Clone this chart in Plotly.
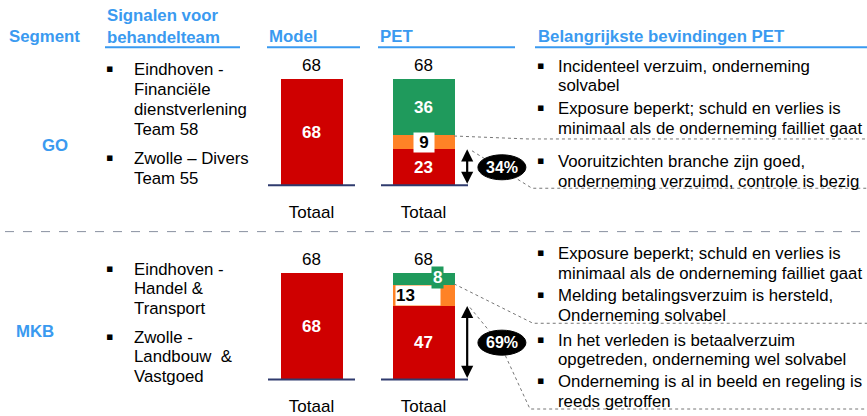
import plotly.graph_objects as go

# ---------------- data ----------------
segments = ["GO", "MKB"]
bar_categories = ["Model", "PET"]
tick_labels = ["Totaal", "Totaal"]
model_totals = [68, 68]
pet_red = [23, 47]
pet_orange = [9, 13]
pet_green = [36, 8]

headers = ["Segment", "Signalen voor<br>behandelteam", "Model", "PET", "Belangrijkste bevindingen PET"]

go_signals = [["Eindhoven -", "Financiële", "dienstverlening", "Team 58"],
              ["Zwolle – Divers", "Team 55"]]
mkb_signals = [["Eindhoven -", "Handel &", "Transport"],
               ["Zwolle -", "Landbouw  &", "Vastgoed"]]
go_findings = [["Incidenteel verzuim, onderneming", "solvabel"],
               ["Exposure beperkt; schuld en verlies is", "minimaal als de onderneming failliet gaat"],
               ["Vooruitzichten branche zijn goed,", "onderneming verzuimd, controle is bezig"]]
mkb_findings = [["Exposure beperkt; schuld en verlies is", "minimaal als de onderneming failliet gaat"],
                ["Melding betalingsverzuim is hersteld,", "Onderneming solvabel"],
                ["In het verleden is betaalverzuim", "opgetreden, onderneming wel solvabel"],
                ["Onderneming is al in beeld en regeling is", "reeds getroffen"]]

# ---------------- styling ----------------
W, H = 867, 416
RED = "#cf0000"
ORANGE = "#ff8226"
GREEN = "#1f9a5c"
BLUE = "#3a9af0"
NAVY = "#2f3b6e"
FONT = "Liberation Sans, Arial, sans-serif"
FS = 16.8
K = 108 / 68          # pixels per unit
Y_MAX = 80
baselines_px = [188, 385]


def px(x):
    return x / W


def py(y):
    return 1 - y / H


fig = go.Figure()
annotations = []
shapes = []

for i, seg in enumerate(segments):
    xa = "x" if i == 0 else "x2"
    ya = "y" if i == 0 else "y2"
    common = dict(xaxis=xa, yaxis=ya, width=0.545, showlegend=False,
                  hoverinfo="skip", marker_line_width=0)
    fig.add_trace(go.Bar(x=bar_categories, y=[model_totals[i], pet_red[i]],
                         marker_color=RED, **common))
    fig.add_trace(go.Bar(x=["PET"], y=[pet_orange[i]], marker_color=ORANGE, **common))
    fig.add_trace(go.Bar(x=["PET"], y=[pet_green[i]], marker_color=GREEN, **common))

    pet_total = pet_red[i] + pet_orange[i] + pet_green[i]
    bold_white = dict(family=FONT, size=17, color="white")
    # totals above bars
    for cat, tot in zip(bar_categories, [model_totals[i], pet_total]):
        annotations.append(dict(xref=xa, yref=ya, x=cat, y=tot, text=str(tot),
                                showarrow=False, yanchor="bottom", yshift=2,
                                font=dict(family=FONT, size=17, color="black")))
    # model label
    annotations.append(dict(xref=xa, yref=ya, x="Model", y=model_totals[i] / 2,
                            text="<b>%d</b>" % model_totals[i], showarrow=False, font=bold_white))
    # red
    annotations.append(dict(xref=xa, yref=ya, x="PET", y=pet_red[i] / 2,
                            text="<b>%d</b>" % pet_red[i], showarrow=False, font=bold_white))
    # orange
    if i == 0:
        annotations.append(dict(xref=xa, yref=ya, x="PET", y=pet_red[i] + pet_orange[i] / 2,
                                text="<b>%d</b>" % pet_orange[i], showarrow=False,
                                bgcolor="white", borderpad=0, width=20,
                                font=dict(family=FONT, size=17, color="black")))
    else:
        annotations.append(dict(xref=xa, yref=ya, x="PET", y=pet_red[i] + pet_orange[i] / 2,
                                text="<b>%d</b>" % pet_orange[i], showarrow=False,
                                bgcolor="white", borderpad=0, width=44, align="left",
                                xshift=-6,
                                font=dict(family=FONT, size=17, color="black")))
    # green
    if i == 0:
        annotations.append(dict(xref=xa, yref=ya, x="PET",
                                y=pet_red[i] + pet_orange[i] + pet_green[i] / 2,
                                text="<b>%d</b>" % pet_green[i], showarrow=False, font=bold_white))
    else:
        annotations.append(dict(xref=xa, yref=ya, x="PET",
                                y=pet_red[i] + pet_orange[i] + pet_green[i] / 2,
                                text="<b>%d</b>" % pet_green[i], showarrow=False,
                                bgcolor=GREEN, borderpad=1, xshift=14, yshift=2,
                                font=bold_white))
    # double arrow
    annotations.append(dict(xref=xa, yref=ya, x=1.39, y=pet_red[i],
                            axref=xa, ayref=ya, ax=1.39, ay=0, text="",
                            showarrow=True, arrowside="end+start", arrowhead=2,
                            arrowsize=1.1, arrowwidth=2.2, arrowcolor="black",
                            standoff=0, startstandoff=0))
    # baselines
    b = baselines_px[i]
    for x0, x1 in [(268, 355), (381, 468)]:
        shapes.append(dict(type="line", xref="paper", yref="paper",
                           x0=px(x0), x1=px(x1), y0=py(b), y1=py(b),
                           line=dict(color=NAVY, width=2)))

# connectors (dotted)
dot = dict(color="#777777", width=1, dash="dot")
connectors = [
    [(454, 138), (528, 141), (867, 141)],
    [(472, 153), (532, 191), (867, 191)],
    [(454, 288), (533, 328), (867, 328)],
    [(470, 312), (500, 349), (530, 415), (867, 415)],
]
for pts in connectors:
    path = "M " + " L ".join("%f,%f" % (px(x), py(y)) for x, y in pts)
    shapes.append(dict(type="path", xref="paper", yref="paper", path=path, line=dot))

# ellipses with percentages
for i in range(len(segments)):
    xa = "x" if i == 0 else "x2"
    ya = "y" if i == 0 else "y2"
    pct = round(100 * pet_red[i] / model_totals[i])
    shapes.append(dict(type="circle", xref=xa, yref=ya,
                       xsizemode="pixel", ysizemode="pixel",
                       xanchor=1.70, yanchor=pet_red[i] / 2,
                       x0=-24, x1=24, y0=-12.5, y1=12.5,
                       fillcolor="black", line=dict(color="black", width=1)))
    annotations.append(dict(xref=xa, yref=ya, x=1.70, y=pet_red[i] / 2,
                            text="<b>%d%%</b>" % pct, showarrow=False,
                            font=dict(family=FONT, size=16, color="white")))

# separator
shapes.append(dict(type="line", xref="paper", yref="paper", x0=px(5), x1=1,
                   y0=py(235), y1=py(235),
                   line=dict(color="#8890a0", width=1, dash="dash")))

# header underlines
for x0, x1 in [(105, 240), (267, 360), (378, 515), (535, 867)]:
    shapes.append(dict(type="line", xref="paper", yref="paper", x0=px(x0), x1=px(x1),
                       y0=py(48), y1=py(48), line=dict(color=BLUE, width=2)))

# headers
hfont = dict(family=FONT, size=FS, color=BLUE)
header_pos = [(7, 37), (105, 27), (267, 37), (378, 37), (536, 37)]
for txt, (x, y) in zip(headers, header_pos):
    annotations.append(dict(xref="paper", yref="paper", x=px(x), y=py(y),
                            text="<b>%s</b>" % txt, showarrow=False, xanchor="left",
                            yanchor="middle", align="left", font=hfont))

# segment labels
for txt, (x, y) in zip(segments, [(40, 148), (14, 336)]):
    annotations.append(dict(xref="paper", yref="paper", x=px(x), y=py(y),
                            text="<b>%s</b>" % txt, showarrow=False, xanchor="left",
                            yanchor="middle",
                            font=dict(family=FONT, size=FS, color=BLUE)))

tfont = dict(family=FONT, size=FS, color="black")


def add_bullets(groups, starts, bx, tx):
    for lines, y0 in zip(groups, starts):
        annotations.append(dict(xref="paper", yref="paper", x=px(bx), y=py(y0 - 1),
                                text="▪", showarrow=False, xanchor="center",
                                yanchor="middle",
                                font=dict(family="DejaVu Sans", size=11, color="black")))
        for j, line in enumerate(lines):
            annotations.append(dict(xref="paper", yref="paper", x=px(tx), y=py(y0 + 20 * j),
                                    text=line, showarrow=False, xanchor="left",
                                    yanchor="middle", font=tfont))


add_bullets(go_signals, [71, 161], 109, 132)
add_bullets(mkb_signals, [273, 342], 109, 132)
add_bullets(go_findings, [67, 110, 164], 540, 556)
add_bullets(mkb_findings, [257, 300, 345, 387], 540, 556)

axis_x = dict(type="category", categoryorder="array", categoryarray=bar_categories,
              range=[-0.5, 2.5], domain=[px(255.5), px(255.5 + 336)],
              tickmode="array", tickvals=bar_categories, ticktext=tick_labels,
              showgrid=False, zeroline=False, showline=False, ticks="",
              ticklabelstandoff=15, tickfont=dict(family=FONT, size=17, color="black"),
              fixedrange=True)
fig.update_layout(
    width=W, height=H, margin=dict(l=0, r=0, t=0, b=0),
    paper_bgcolor="white", plot_bgcolor="rgba(0,0,0,0)",
    barmode="stack", bargap=0,
    xaxis=dict(axis_x, anchor="y"),
    yaxis=dict(domain=[py(188), py(188 - Y_MAX * K)], range=[0, Y_MAX], visible=False),
    xaxis2=dict(axis_x, anchor="y2"),
    yaxis2=dict(domain=[py(385), py(385 - Y_MAX * K)], range=[0, Y_MAX], visible=False),
    annotations=annotations, shapes=shapes, showlegend=False,
)

fig.write_html("out.html", config={"displayModeBar": False},
               post_script="document.body.style.margin='0px';")
